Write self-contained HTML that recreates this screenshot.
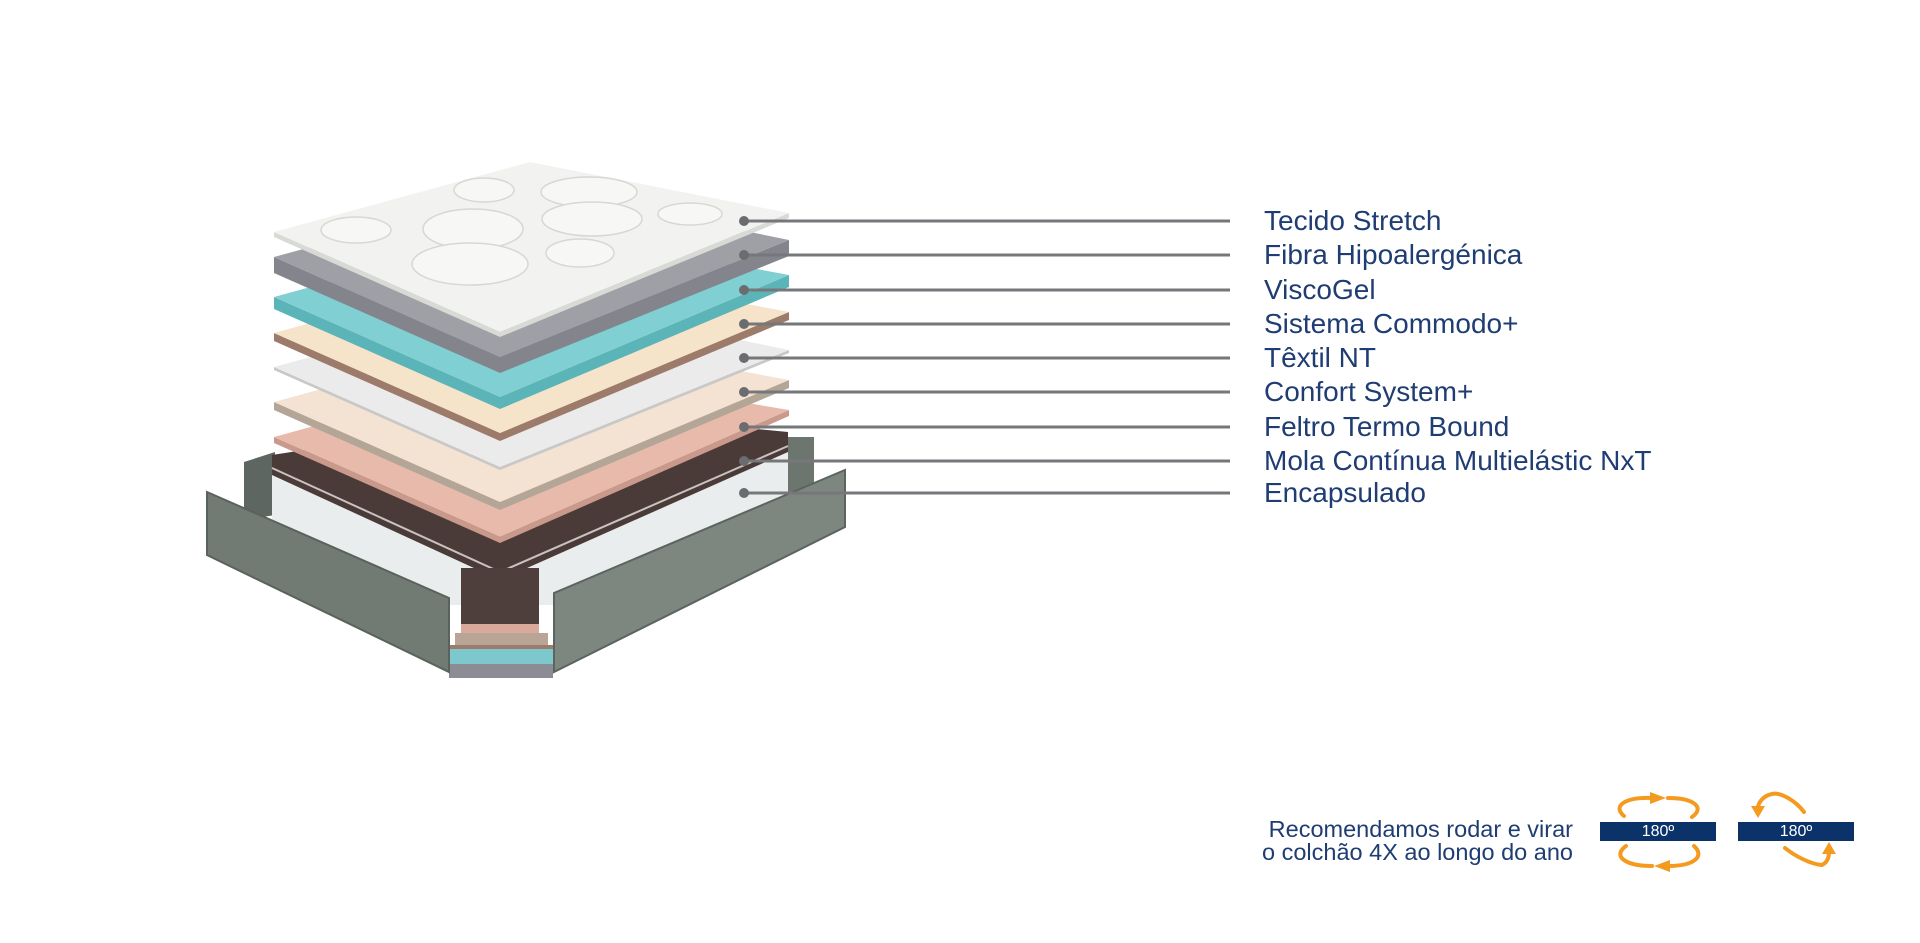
<!DOCTYPE html>
<html><head><meta charset="utf-8"><style>
html,body{margin:0;padding:0;background:#fff;}
body{width:1920px;height:943px;position:relative;overflow:hidden;font-family:"Liberation Sans",sans-serif;}
.lbl{position:absolute;left:1264px;font-size:28px;color:#1f3d73;line-height:1;white-space:nowrap;}
.rec{position:absolute;right:347px;font-size:23.5px;color:#1f3d73;text-align:right;line-height:1;white-space:nowrap;}
.box{position:absolute;top:822px;width:116px;height:19px;background:#0b3369;color:#fff;font-size:16px;text-align:center;line-height:19px;}
</style></head><body>
<svg width="1920" height="943" style="position:absolute;left:0;top:0">
<polygon points="244,462 275,452 275,515 244,520" fill="#5d6660"/>
<polygon points="788,437 814,437 814,530 788,530" fill="#6d756f"/>
<polygon points="272,470 498,580 788,450 788,505 554,605 449,605 272,525" fill="#e9edee"/>
<polygon points="272,455 560,410 788,432 788,452 500,580 272,475" fill="#4a3a38"/>
<polyline points="272,468 500,572 788,446" fill="none" stroke="#c9c2c0" stroke-width="2"/>
<polygon points="461,568 539,568 539,626 461,626" fill="#4e3e3c"/>
<polygon points="461,624 539,624 539,634 461,634" fill="#d9aa9c"/>
<polygon points="455,633 548,633 548,647 455,647" fill="#b9a595"/>
<polygon points="449,645 553,645 553,649 449,649" fill="#9d7b6b"/>
<polygon points="449,649 553,649 553,664 449,664" fill="#7cc8cc"/>
<polygon points="449,664 553,664 553,678 449,678" fill="#8c8d94"/>
<polygon points="207,492 449,598 449,672 207,555" fill="#717b74" stroke="#5a625c" stroke-width="2"/>
<polygon points="554,593 845,470 845,527 554,672" fill="#7d877f" stroke="#5b645e" stroke-width="2"/>
<g id="layers"></g>
<g fill="#f7f8f6" stroke="#d6d8d4" stroke-width="1.5">
<ellipse cx="484" cy="190" rx="30" ry="12"/><ellipse cx="589" cy="192" rx="48" ry="15"/>
<ellipse cx="592" cy="219" rx="50" ry="17"/><ellipse cx="690" cy="214" rx="32" ry="11"/>
<ellipse cx="473" cy="229" rx="50" ry="20"/><ellipse cx="356" cy="230" rx="35" ry="13"/>
<ellipse cx="470" cy="264" rx="58" ry="21"/><ellipse cx="580" cy="253" rx="34" ry="14"/>
</g>
<g stroke="#76777b" stroke-width="3">
<line x1="744" y1="221" x2="1230" y2="221"/><line x1="744" y1="255" x2="1230" y2="255"/>
<line x1="744" y1="290" x2="1230" y2="290"/><line x1="744" y1="324" x2="1230" y2="324"/>
<line x1="744" y1="358" x2="1230" y2="358"/><line x1="744" y1="392" x2="1230" y2="392"/>
<line x1="744" y1="427" x2="1230" y2="427"/><line x1="744" y1="461" x2="1230" y2="461"/>
<line x1="744" y1="493" x2="1230" y2="493"/>
</g>
<g fill="#6b6c70">
<circle cx="744" cy="221" r="5"/><circle cx="744" cy="255" r="5"/><circle cx="744" cy="290" r="5"/>
<circle cx="744" cy="324" r="5"/><circle cx="744" cy="358" r="5"/><circle cx="744" cy="392" r="5"/>
<circle cx="744" cy="427" r="5"/><circle cx="744" cy="461" r="5"/><circle cx="744" cy="493" r="5"/>
</g>
<g fill="none" stroke="#f39a1f" stroke-width="4" stroke-linecap="round">
<path d="M1624,816 C1612,806 1625,797 1652,798"/>
<path d="M1668,798 C1695,798 1705,808 1692,817"/>
<path d="M1626,846 C1612,856 1625,866 1652,866"/>
<path d="M1668,866 C1695,866 1705,856 1694,846"/>
<path d="M1804,812 C1795,800 1780,792 1772,794 C1762,796 1758,804 1758,808"/>
<path d="M1785,848 C1795,856 1810,864 1822,865 C1828,862 1829,856 1829,852"/>
</g>
<g fill="#f39a1f">
<polygon points="1650,792 1666,798 1650,804"/>
<polygon points="1670,860 1654,866 1670,872"/>
<polygon points="1751,806 1765,806 1758,818"/>
<polygon points="1822,854 1836,854 1829,842"/>
</g>
</svg>
<div class="lbl" style="top:207px">Tecido Stretch</div>
<div class="lbl" style="top:241px">Fibra Hipoalergénica</div>
<div class="lbl" style="top:276px">ViscoGel</div>
<div class="lbl" style="top:310px">Sistema Commodo+</div>
<div class="lbl" style="top:344px">Têxtil NT</div>
<div class="lbl" style="top:378px">Confort System+</div>
<div class="lbl" style="top:413px">Feltro Termo Bound</div>
<div class="lbl" style="top:447px">Mola Contínua Multielástic NxT</div>
<div class="lbl" style="top:479px">Encapsulado</div>
<div class="rec" style="top:818px">Recomendamos rodar e virar</div>
<div class="rec" style="top:841px">o colchão 4X ao longo do ano</div>
<div class="box" style="left:1600px">180º</div>
<div class="box" style="left:1738px">180º</div>
<script>
var g=document.getElementById('layers');
var L=[[437,410,6,'#e8baac','#c99a8c'],[402,380,8,'#f4e2d2','#b3a696'],[367,350,3,'#ebebeb','#c8c8c8'],[333,312,8,'#f5e3ca','#9d7b6b'],[297,275,12,'#80d0d3','#5bb4b8'],[257,240,16,'#9fa0a6','#84858c'],[232,213,5,'#f2f3f0','#d8dad6']];
var s='';
L.forEach(function(l){var y=l[0],ry=l[1],t=l[2];
var Lx=274,Tx=530,Rx=789,Bx=500,by=y+100,ty=y-70;
s+='<polygon points="'+Lx+','+y+' '+Bx+','+by+' '+Rx+','+ry+' '+Rx+','+(ry+t)+' '+Bx+','+(by+t)+' '+Lx+','+(y+t)+'" fill="'+l[4]+'"/>';
s+='<polygon points="'+Lx+','+y+' '+Tx+','+ty+' '+Rx+','+ry+' '+Bx+','+by+'" fill="'+l[3]+'"/>';
});
g.innerHTML=s;
</script>
</body></html>
